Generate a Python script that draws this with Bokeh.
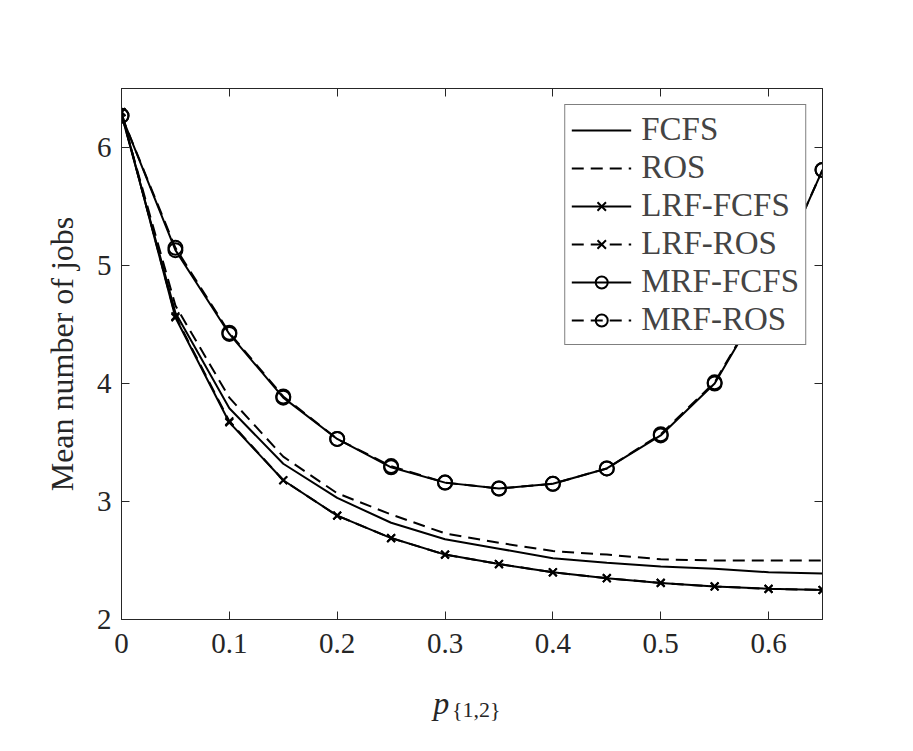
from bokeh.plotting import figure
from bokeh.layouts import column
from bokeh.models import (LinearAxis, FixedTicker, NumeralTickFormatter, Legend,
                          LegendItem, Range1d, CustomJSTickFormatter)
from bokeh.core.properties import value
from bokeh.embed import file_html
from bokeh.resources import INLINE

# ---- data ----
p12 = [0.0, 0.05, 0.10, 0.15, 0.20, 0.25, 0.30, 0.35, 0.40, 0.45, 0.50, 0.55, 0.60, 0.65]
fcfs = [6.28, 4.60, 3.79, 3.32, 3.03, 2.82, 2.68, 2.60, 2.52, 2.48, 2.45, 2.43, 2.40, 2.39]
ros = [6.28, 4.66, 3.88, 3.38, 3.07, 2.89, 2.73, 2.65, 2.58, 2.55, 2.51, 2.50, 2.50, 2.50]
lrf_fcfs = [6.30, 4.56, 3.67, 3.18, 2.88, 2.69, 2.55, 2.47, 2.40, 2.35, 2.31, 2.28, 2.26, 2.25]
lrf_ros = [6.30, 4.57, 3.68, 3.18, 2.88, 2.69, 2.55, 2.47, 2.40, 2.35, 2.31, 2.28, 2.26, 2.25]
mrf_fcfs = [6.27, 5.13, 4.42, 3.88, 3.53, 3.29, 3.16, 3.11, 3.15, 3.28, 3.56, 4.00, 4.78, 5.81]
mrf_ros = [6.27, 5.15, 4.43, 3.89, 3.53, 3.30, 3.16, 3.11, 3.15, 3.28, 3.57, 4.01, 4.79, 5.81]
x_ticks = [0, 0.1, 0.2, 0.3, 0.4, 0.5, 0.6]
y_ticks = [2, 3, 4, 5, 6]
series_names = ["FCFS", "ROS", "LRF-FCFS", "LRF-ROS", "MRF-FCFS", "MRF-ROS"]
x_label_main = "p"
x_label_sub = "{1,2}"
y_label = "Mean number of jobs"

FONT = "Liberation Serif"
AX = "#262626"
W = 905

p = figure(width=W, height=669, output_backend="svg", toolbar_location=None,
           x_range=Range1d(0, 0.65), y_range=Range1d(2, 6.5),
           min_border_left=121, min_border_right=83, min_border_top=88,
           min_border_bottom=50)
p.grid.visible = False
p.outline_line_color = AX
p.outline_line_width = 1

left = p.yaxis[0]
bottom = p.xaxis[0]

for ax, ticks in ((left, y_ticks), (bottom, x_ticks)):
    ax.ticker = FixedTicker(ticks=ticks)
    ax.major_tick_in = 8
    ax.major_tick_out = 0
    ax.minor_tick_line_color = None
    ax.axis_line_color = AX
    ax.major_tick_line_color = AX
    ax.major_label_text_color = AX
    ax.major_label_text_font = FONT
    ax.major_label_text_font_size = "29px"

bottom.formatter = NumeralTickFormatter(format="0.[0]")
bottom.major_label_standoff = 14
left.major_label_standoff = 10
left.axis_label = y_label
left.axis_label_text_font = FONT
left.axis_label_text_font_size = "32px"
left.axis_label_text_font_style = "normal"
left.axis_label_text_color = AX
left.axis_label_standoff = 14

empty = CustomJSTickFormatter(code="return ''")
for loc, ticks in (("right", y_ticks), ("above", x_ticks)):
    ax = LinearAxis(ticker=FixedTicker(ticks=ticks), formatter=empty)
    ax.major_tick_in = 8
    ax.major_tick_out = 0
    ax.minor_tick_line_color = None
    ax.axis_line_color = AX
    ax.major_tick_line_color = AX
    ax.major_label_standoff = 0
    p.add_layout(ax, loc)

series = [fcfs, ros, lrf_fcfs, lrf_ros, mrf_fcfs, mrf_ros]
dashes = ["solid", "12 7", "solid", "12 7", "solid", "12 7"]
markers = [None, None, "x", "x", "circle", "circle"]
items = []
for name, ys, dash, mk in zip(series_names, series, dashes, markers):
    rs = [p.line(p12, ys, line_color="black", line_width=2, line_dash=dash)]
    if mk == "x":
        rs.append(p.scatter(p12, ys, marker="x", size=11, line_color="black", line_width=2))
    elif mk == "circle":
        rs.append(p.scatter(p12, ys, marker="circle", size=14, fill_color=None,
                            line_color="black", line_width=2))
    items.append(LegendItem(label=name, renderers=rs))

legend = Legend(items=items, location="top_right")
legend.label_text_font = FONT
legend.label_text_font_size = "33px"
legend.glyph_width = 60
legend.glyph_height = 30
legend.label_height = 30
legend.spacing = 1
legend.padding = 6
legend.margin = 16
legend.label_standoff = 10
legend.border_line_color = "black"
legend.border_line_width = 1
legend.background_fill_alpha = 1
p.add_layout(legend)

# x-axis label (p with subscript) in a strip under the plot
lab = figure(width=W, height=60, output_backend="svg", toolbar_location=None,
             x_range=p.x_range, y_range=Range1d(0, 60),
             x_axis_location=None, y_axis_location=None,
             min_border_left=121, min_border_right=83, min_border_top=0,
             min_border_bottom=0)
lab.grid.visible = False
lab.outline_line_color = None
lab.text(x=[0.289], y=[27], text=[x_label_main], text_font=value(FONT),
         text_font_size="32px", text_font_style="italic", text_color=AX,
         text_baseline="alphabetic")
lab.text(x=[0.3065], y=[20], text=[x_label_sub], text_font=value(FONT),
         text_font_size="22px", text_color=AX, text_baseline="alphabetic")

layout = column(p, lab, spacing=0)
open("out.html", "w").write(file_html(layout, INLINE))
